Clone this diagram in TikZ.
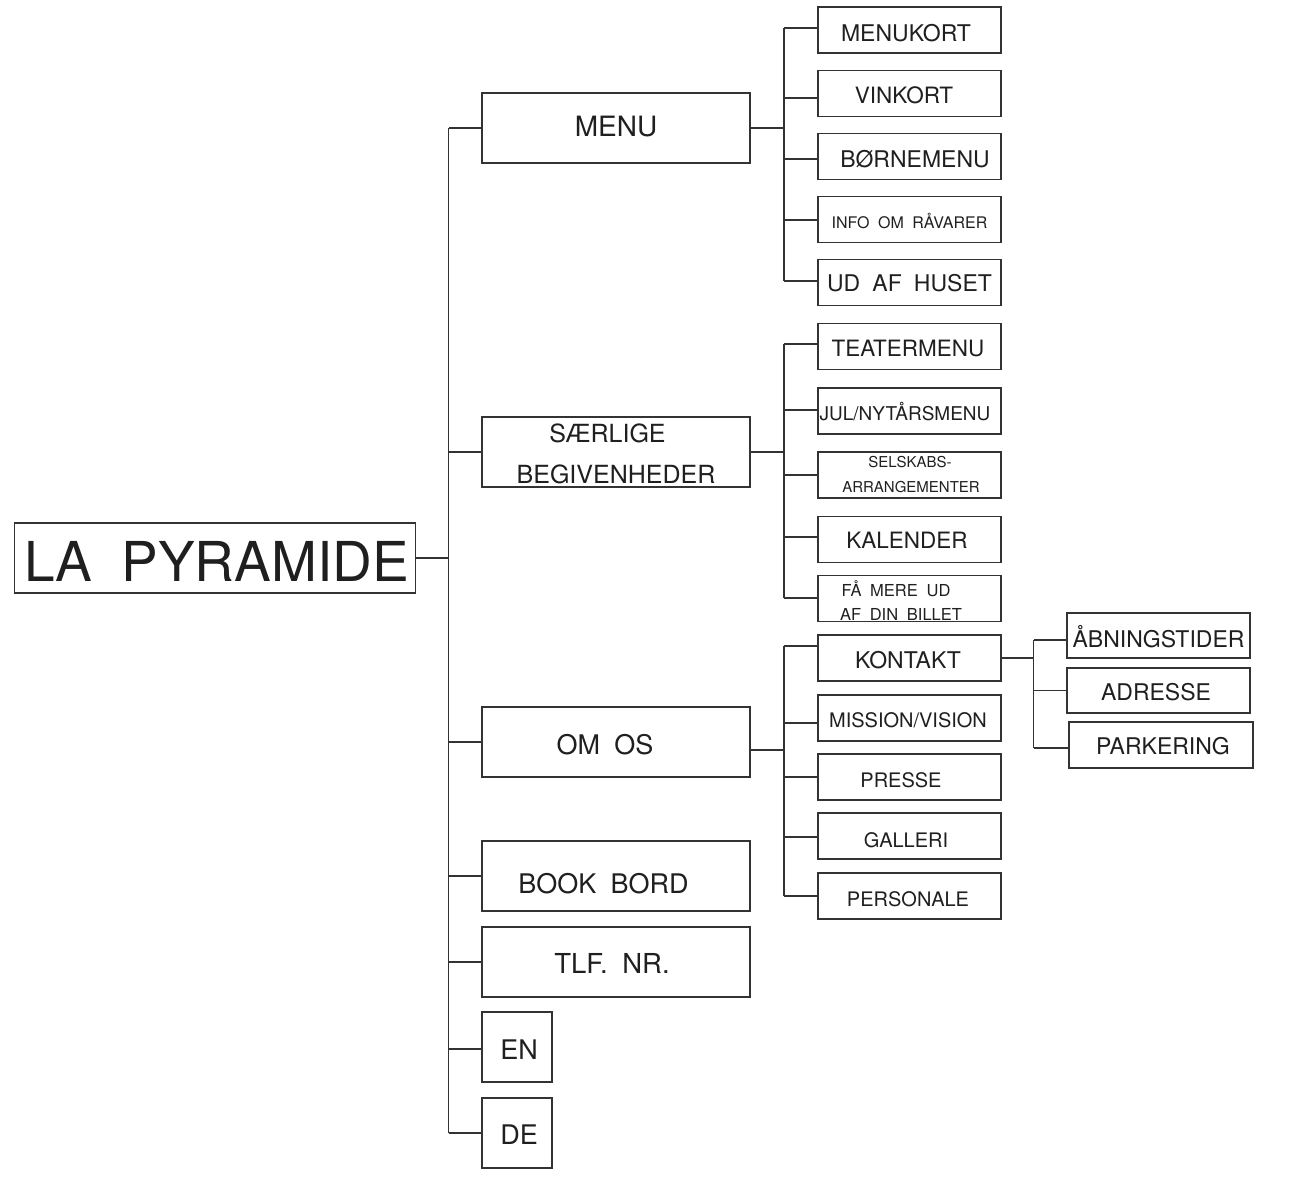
\documentclass[tikz,border=0pt]{standalone}
\usepackage{fontspec}
\setmainfont{TeX Gyre Heros}[WordSpace=1.9]
\usetikzlibrary{calc}
\newcommand\fsz[1]{\fontsize{#1pt}{#1pt}\selectfont}
\newcommand\hconn[3]{\coordinate (#1-c) at ($(#1.west)+(0,#3)$);\draw[ln] (#1-c) -- (#1-c -| #2);}
\newcommand\econn[3]{\coordinate (#1-e) at ($(#1.east)+(0,#3)$);\draw[ln] (#1-e) -- (#1-e -| #2);}
\begin{document}
\begin{tikzpicture}[x=1pt,y=-1pt,
  ln/.style={draw=black!80,line width=1.4pt},
  bx/.style 2 args={draw=black!80,line width=1.4pt,inner sep=0pt,minimum width=#1pt,minimum height=#2pt},
  lbl/.style={inner sep=0pt,text depth=0pt,text height={0.72*#1pt},font=\fsz{#1},text=black!88}]
\useasboundingbox (0,0) rectangle (1316,1192);
\coordinate (t) at (448.5,0);
\coordinate (b1) at (784,0);
\coordinate (b2) at (1033.5,0);
% root
\node[bx={401}{70},label={[lbl=55,xshift=1.5pt,yshift=-4pt]center:LA PYRAMIDE}] (root) at (215,558) {};
% level 1
\node[bx={268}{70},label={[lbl=28,yshift=2pt]center:MENU}] (menu) at (616,128) {};
\node[bx={268}{70},label={[lbl=25,xshift=-8.5pt,yshift=19pt]center:SÆRLIGE},label={[lbl=25,yshift=-22pt]center:BEGIVENHEDER}] (saer) at (616,452) {};
\node[bx={268}{70},label={[lbl=27,xshift=-11pt,yshift=-3pt]center:OM OS}] (omos) at (616,742) {};
\node[bx={268}{70},label={[lbl=27,xshift=-12.5pt,yshift=-7.5pt]center:BOOK BORD}] (book) at (616,876) {};
\node[bx={268}{70},label={[lbl=27.5,xshift=-4pt,yshift=-2pt]center:TLF. NR.}] (tlf) at (616,962) {};
\node[bx={70}{70},label={[lbl=27,xshift=2pt,yshift=-3pt]center:EN}] (en) at (517,1047) {};
\node[bx={70}{70},label={[lbl=27,xshift=2pt,yshift=-1.5pt]center:DE}] (de) at (517,1133) {};
% level 2: MENU
\node[bx={183}{46},label={[lbl=23,xshift=-3.5pt,yshift=-3.5pt]center:MENUKORT}] (menukort) at (909.5,30) {};
\node[bx={183}{46},label={[lbl=22.5,xshift=-5.5pt,yshift=-1.5pt]center:VINKORT}] (vinkort) at (909.5,93.5) {};
\node[bx={183}{46},label={[lbl=23,xshift=5.5pt,yshift=-2.5pt]center:BØRNEMENU}] (born) at (909.5,156.5) {};
\node[bx={183}{46},label={[lbl=16,yshift=-3.5pt]center:INFO OM RÅVARER}] (info) at (909.5,219.5) {};
\node[bx={183}{46},label={[lbl=23,yshift=-0.5pt]center:UD AF HUSET}] (udaf) at (909.5,282.5) {};
% level 2: SAERLIGE
\node[bx={183}{46},label={[lbl=22.5,xshift=-1.5pt,yshift=-2pt]center:TEATERMENU}] (teater) at (909.5,346.5) {};
\node[bx={183}{46},label={[lbl=19,xshift=-4.5pt,yshift=-3pt]center:JUL/NYTÅRSMENU}] (jul) at (909.5,411) {};
\node[bx={183}{46},label={[lbl=15,xshift=0.5pt,yshift=12.5pt]center:SELSKABS-},label={[lbl=15,xshift=1.5pt,yshift=-12.5pt]center:ARRANGEMENTER}] (selsk) at (909.5,475) {};
\node[bx={183}{46},label={[lbl=22.5,xshift=-2.5pt,yshift=-0.5pt]center:KALENDER}] (kal) at (909.5,539.5) {};
\node[bx={183}{46},label={[lbl=16.5,xshift=-13.5pt,yshift=7.5pt]center:FÅ MERE UD},label={[lbl=16.5,xshift=-8.5pt,yshift=-16pt]center:AF DIN BILLET}] (faa) at (909.5,598.5) {};
% level 2: OM OS
\node[bx={183}{46},label={[lbl=23,xshift=-1.5pt,yshift=-2pt]center:KONTAKT}] (kontakt) at (909.5,658) {};
\node[bx={183}{46},label={[lbl=20,xshift=-1.5pt,yshift=-2pt]center:MISSION/VISION}] (mission) at (909.5,718) {};
\node[bx={183}{46},label={[lbl=20,xshift=-8.5pt,yshift=-3pt]center:PRESSE}] (presse) at (909.5,777) {};
\node[bx={183}{46},label={[lbl=20,xshift=-3.5pt,yshift=-4pt]center:GALLERI}] (galleri) at (909.5,836) {};
\node[bx={183}{46},label={[lbl=20,xshift=-1.5pt,yshift=-3.5pt]center:PERSONALE}] (personale) at (909.5,896) {};
% level 3: KONTAKT
\node[bx={183}{45},label={[lbl=23,yshift=-3.5pt]center:ÅBNINGSTIDER}] (aabn) at (1158.5,635.5) {};
\node[bx={183}{45},label={[lbl=23,xshift=-2.5pt,yshift=-1.5pt]center:ADRESSE}] (adresse) at (1158.5,690.5) {};
\node[bx={184}{46},label={[lbl=23,xshift=2pt,yshift=-1.5pt]center:PARKERING}] (parkering) at (1161,745) {};
% trunk connectors
\econn{root}{t}{0}
\hconn{menu}{t}{0}
\hconn{saer}{t}{0}
\hconn{omos}{t}{0}
\hconn{book}{t}{0}
\hconn{tlf}{t}{0}
\hconn{en}{t}{2}
\hconn{de}{t}{0}
\draw[ln] (menu-c -| t) -- (de-c -| t);
% MENU bus
\econn{menu}{b1}{0}
\hconn{menukort}{b1}{-2}
\hconn{vinkort}{b1}{4.5}
\hconn{born}{b1}{2.5}
\hconn{info}{b1}{0.5}
\hconn{udaf}{b1}{-1.5}
\draw[ln] (menukort-c -| b1) -- (udaf-c -| b1);
% SAERLIGE bus
\econn{saer}{b1}{0}
\hconn{teater}{b1}{-2.5}
\hconn{jul}{b1}{-1}
\hconn{selsk}{b1}{0}
\hconn{kal}{b1}{-2.5}
\hconn{faa}{b1}{-0.5}
\draw[ln] (teater-c -| b1) -- (faa-c -| b1);
% OM OS bus
\econn{omos}{b1}{8}
\hconn{kontakt}{b1}{-12}
\hconn{mission}{b1}{5}
\hconn{presse}{b1}{0}
\hconn{galleri}{b1}{1}
\hconn{personale}{b1}{0}
\draw[ln] (kontakt-c -| b1) -- (personale-c -| b1);
% KONTAKT bus
\econn{kontakt}{b2}{0}
\hconn{aabn}{b2}{4.5}
\hconn{adresse}{b2}{0}
\hconn{parkering}{b2}{3}
\draw[ln] (aabn-c -| b2) -- (parkering-c -| b2);
\end{tikzpicture}
\end{document}
